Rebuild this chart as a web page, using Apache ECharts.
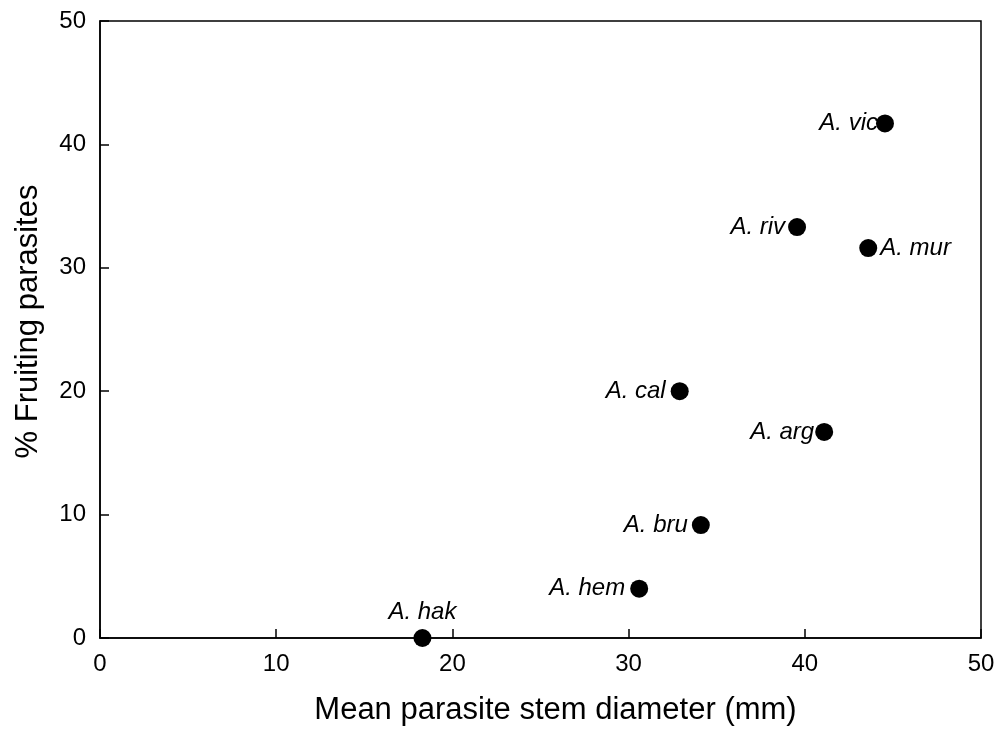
<!DOCTYPE html>
<html>
<head>
<meta charset="utf-8">
<script src="https://cdn.jsdelivr.net/npm/echarts@6/dist/echarts.min.js"></script>
<style>
  html, body { margin: 0; padding: 0; background: #fff; }
  #chart { width: 999px; height: 736px; }
</style>
</head>
<body>
<div id="chart"></div>
<script>
// Acacia host species: mean parasite stem diameter vs. share of fruiting parasites
const species = ['A. vic', 'A. riv', 'A. mur', 'A. cal', 'A. arg', 'A. bru', 'A. hem', 'A. hak'];
const stemDiameter = [44.55, 39.56, 43.6, 32.9, 41.1, 34.1, 30.6, 18.3];
const fruitingPct = [41.7, 33.3, 31.6, 20.0, 16.7, 9.15, 4.0, 0];
const xTicks = [0, 10, 20, 30, 40, 50];
const yTicks = [0, 10, 20, 30, 40, 50];

// Where each species label sits relative to its marker
const labelPlacement = {
  'A. vic': { position: 'left', distance: -2, offset: [0, -11] },
  'A. riv': { position: 'left', distance: 3, offset: [0, 0] },
  'A. mur': { position: 'right', distance: 3, offset: [0, 17] },
  'A. cal': { position: 'left', distance: 5, offset: [0, 0] },
  'A. arg': { position: 'left', distance: 1, offset: [0, 0] },
  'A. bru': { position: 'left', distance: 4, offset: [0, 0] },
  'A. hem': { position: 'left', distance: 5, offset: [0, -6] },
  'A. hak': { position: 'top', distance: 5, offset: [-20, 0] }
};

const points = species.map((name, i) => ({
  name: name,
  value: [stemDiameter[i], fruitingPct[i]],
  label: labelPlacement[name]
}));

const font = 'Liberation Sans, Arial, Helvetica, sans-serif';

const axisCommon = {
  type: 'value',
  interval: 10,
  nameLocation: 'middle',
  axisLine: { show: true, lineStyle: { color: '#000', width: 1.5 } },
  axisTick: { show: true, inside: true, length: 9, lineStyle: { color: '#000', width: 1.5 } },
  axisLabel: { fontFamily: font, fontSize: 24, color: '#000', margin: 14 },
  splitLine: { show: false }
};

const chart = echarts.init(document.getElementById('chart'), null, { renderer: 'canvas' });
chart.setOption({
  backgroundColor: '#ffffff',
  animation: false,
  grid: {
    left: 100, right: 18, top: 21, bottom: 98,
    show: true, borderColor: '#000', borderWidth: 1.5, backgroundColor: 'transparent'
  },
  xAxis: Object.assign({}, axisCommon, {
    min: xTicks[0], max: xTicks[xTicks.length - 1],
    name: 'Mean parasite stem diameter (mm)',
    nameGap: 57,
    nameTextStyle: { fontFamily: font, fontSize: 31, color: '#000', padding: [0, 0, 0, 30] }
  }),
  yAxis: Object.assign({}, axisCommon, {
    min: yTicks[0], max: yTicks[yTicks.length - 1],
    name: '% Fruiting parasites',
    nameGap: 56,
    nameTextStyle: { fontFamily: font, fontSize: 31, color: '#000', padding: [0, 0, 0, 16] }
  }),
  series: [{
    type: 'scatter',
    data: points,
    symbol: 'circle',
    symbolSize: 18,
    itemStyle: { color: '#000', opacity: 1 },
    label: {
      show: true,
      formatter: '{b}',
      fontFamily: font,
      fontStyle: 'italic',
      fontSize: 24,
      color: '#000'
    },
    labelLayout: { hideOverlap: false },
    z: 5
  }]
});
</script>
</body>
</html>
